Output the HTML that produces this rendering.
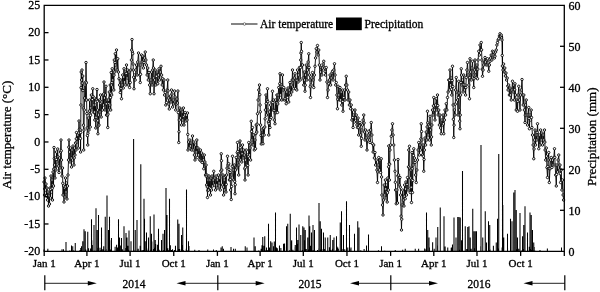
<!DOCTYPE html><html><head><meta charset="utf-8"><style>html,body{margin:0;padding:0;background:#fff;}svg{display:block;will-change:transform;}text{font-family:"Liberation Serif",serif;fill:#000;stroke:#000;stroke-width:0.3px;}</style></head><body>
<svg width="600" height="292" viewBox="0 0 600 292">
<rect width="600" height="292" fill="#fff"/>
<path d="M80.00 251.30V250.05M80.77 251.30V247.93M81.42 251.30V248.84M85.79 251.30V249.53M88.54 251.30V248.14M90.59 251.30V248.55M91.76 251.30V240.30M92.37 251.30V245.04M94.08 251.30V250.12M97.39 251.30V248.04M98.52 251.30V248.76M100.01 251.30V247.65M101.23 251.30V250.09M102.70 251.30V249.37M103.71 251.30V246.24M105.37 251.30V250.40M106.82 251.30V248.92M108.75 251.30V247.12M109.75 251.30V240.30M110.47 251.30V249.57M115.13 251.30V246.67M116.58 251.30V244.63M117.62 251.30V247.50M119.10 251.30V248.52M120.36 251.30V245.44M122.41 251.30V249.24M125.66 251.30V247.97M127.78 251.30V245.78M128.77 251.30V249.74M135.06 251.30V249.71M138.24 251.30V248.75M140.19 251.30V245.83M142.10 251.30V250.26M143.30 251.30V249.88M145.25 251.30V241.18M146.93 251.30V250.45M148.24 251.30V248.45M150.39 251.30V249.83M151.83 251.30V241.51M153.47 251.30V248.98M154.99 251.30V247.69M155.61 251.30V243.95M157.39 251.30V244.66M159.20 251.30V249.71M163.36 251.30V249.97M167.80 251.30V248.25M168.57 251.30V250.37M169.66 251.30V249.85M170.39 251.30V245.25M172.51 251.30V249.29M174.51 251.30V249.96M175.47 251.30V245.65M178.32 251.30V248.90M179.09 251.30V248.79M179.66 251.30V248.90M181.76 251.30V244.93M183.41 251.30V250.33M186.30 251.30V248.87M188.08 251.30V250.02M188.97 251.30V245.96M262.00 251.30V245.17M263.95 251.30V245.84M265.79 251.30V250.48M267.25 251.30V249.89M268.92 251.30V250.34M270.68 251.30V241.27M272.02 251.30V242.45M274.29 251.30V241.38M277.36 251.30V248.17M279.48 251.30V245.43M280.87 251.30V247.91M284.52 251.30V243.60M286.43 251.30V246.86M289.75 251.30V250.01M291.69 251.30V240.30M292.94 251.30V249.66M295.13 251.30V247.17M296.83 251.30V243.77M300.77 251.30V240.30M302.47 251.30V249.92M304.58 251.30V240.30M306.26 251.30V248.91M308.43 251.30V249.48M310.50 251.30V245.70M311.43 251.30V250.37M312.51 251.30V250.42M314.08 251.30V250.34M317.50 251.30V249.90M318.86 251.30V248.50M320.98 251.30V249.55M323.13 251.30V249.07M324.61 251.30V248.93M325.21 251.30V249.44M329.42 251.30V247.17M330.95 251.30V250.04M332.41 251.30V248.71M335.86 251.30V250.39M336.90 251.30V246.57M338.35 251.30V248.66M340.22 251.30V243.50M341.55 251.30V248.27M342.99 251.30V249.00M344.75 251.30V249.37M426.00 251.30V249.22M429.40 251.30V247.46M432.63 251.30V242.18M434.21 251.30V248.68M437.61 251.30V245.44M445.14 251.30V246.40M451.22 251.30V247.85M452.49 251.30V244.44M459.39 251.30V249.67M461.57 251.30V240.30M466.72 251.30V248.98M470.25 251.30V247.20M471.19 251.30V248.72M475.03 251.30V248.17M480.80 251.30V246.33M488.85 251.30V250.29M490.08 251.30V249.54M493.40 251.30V245.83M498.32 251.30V248.59M502.12 251.30V247.57M507.53 251.30V248.08M516.92 251.30V249.36M518.71 251.30V248.72M522.07 251.30V250.30M523.31 251.30V248.90M527.58 251.30V250.10M529.28 251.30V246.74M530.94 251.30V249.08M532.30 251.30V249.94M533.24 251.30V250.38M534.17 251.30V247.07M44.00 251.30V249.61M47.84 251.30V248.75M69.77 251.30V250.48M73.58 251.30V250.59M194.75 251.30V249.69M216.26 251.30V250.04M235.31 251.30V248.71M258.73 251.30V250.47M261.13 251.30V248.71M350.79 251.30V248.81M360.79 251.30V250.14M364.12 251.30V248.95M378.46 251.30V250.17M384.73 251.30V250.65M402.66 251.30V249.65M418.62 251.30V248.75M424.65 251.30V248.56M535.00 251.30V250.79M539.98 251.30V249.94M547.38 251.30V248.48M47.75 251.30V250.00M62.00 251.30V249.25M63.50 251.30V249.25M66.00 251.30V242.00M71.50 251.30V245.50M72.75 251.30V246.25M75.25 251.30V243.00M81.50 251.30V246.25M82.75 251.30V241.25M84.00 251.30V229.25M85.25 251.30V231.25M87.75 251.30V231.75M91.50 251.30V219.25M94.00 251.30V225.00M96.00 251.30V208.25M97.25 251.30V230.00M98.50 251.30V215.00M101.50 251.30V227.50M105.25 251.30V216.75M107.00 251.30V195.50M108.50 251.30V230.00M109.50 251.30V216.75M111.50 251.30V238.00M118.50 251.30V219.25M119.50 251.30V237.50M121.50 251.30V238.00M124.00 251.30V226.25M126.00 251.30V233.00M127.00 251.30V237.50M129.00 251.30V230.50M131.00 251.30V241.25M133.60 251.30V139.00M135.25 251.30V230.00M137.00 251.30V220.00M140.80 251.30V164.20M144.00 251.30V198.75M144.50 251.30V218.75M146.50 251.30V232.50M148.50 251.30V237.50M150.25 251.30V216.25M151.50 251.30V233.75M154.00 251.30V214.50M155.25 251.30V240.00M158.50 251.30V228.75M161.50 251.30V240.00M163.00 251.30V233.75M164.50 251.30V230.00M166.00 251.30V188.00M167.00 251.30V215.00M169.50 251.30V198.75M171.50 251.30V250.00M177.75 251.30V219.50M179.00 251.30V223.75M181.50 251.30V235.00M182.75 251.30V227.50M186.50 251.30V189.50M188.50 251.30V241.25M199.00 251.30V250.00M207.75 251.30V249.50M213.50 251.30V249.50M221.00 251.30V247.50M222.25 251.30V246.25M223.50 251.30V248.75M231.00 251.30V247.00M233.50 251.30V248.75M245.25 251.30V246.25M247.00 251.30V247.50M254.00 251.30V237.50M255.25 251.30V246.25M261.50 251.30V248.75M262.75 251.30V237.00M264.75 251.30V236.25M266.50 251.30V247.50M268.50 251.30V223.75M269.50 251.30V247.50M273.50 251.30V246.25M275.50 251.30V212.50M276.50 251.30V247.50M283.50 251.30V243.75M286.50 251.30V226.25M287.75 251.30V223.75M290.25 251.30V213.75M291.50 251.30V241.25M295.25 251.30V245.00M296.50 251.30V227.50M297.75 251.30V240.00M299.00 251.30V224.50M300.75 251.30V235.00M302.75 251.30V226.25M304.00 251.30V227.50M305.25 251.30V230.00M307.75 251.30V237.50M309.00 251.30V215.50M309.75 251.30V226.25M311.50 251.30V232.50M313.00 251.30V225.00M314.50 251.30V230.00M319.00 251.30V203.00M320.25 251.30V221.25M321.50 251.30V228.75M323.50 251.30V232.50M325.25 251.30V237.50M327.75 251.30V237.50M330.25 251.30V235.00M332.75 251.30V240.00M334.00 251.30V237.50M336.50 251.30V236.25M337.75 251.30V247.50M340.25 251.30V222.50M341.50 251.30V211.25M343.50 251.30V235.00M346.50 251.30V201.25M347.75 251.30V247.50M349.50 251.30V225.00M351.00 251.30V247.50M354.50 251.30V233.75M357.75 251.30V221.25M359.00 251.30V227.50M366.50 251.30V245.50M368.50 251.30V234.50M381.50 251.30V246.25M395.25 251.30V250.00M405.25 251.30V248.75M415.25 251.30V248.75M426.50 251.30V212.50M427.75 251.30V230.00M429.00 251.30V237.50M436.00 251.30V237.50M437.75 251.30V227.00M440.25 251.30V207.50M444.00 251.30V216.25M447.75 251.30V247.50M451.50 251.30V247.50M454.00 251.30V217.50M456.00 251.30V237.50M457.75 251.30V217.00M459.00 251.30V217.00M460.25 251.30V217.50M462.50 251.30V171.00M465.25 251.30V226.25M467.75 251.30V227.00M469.00 251.30V226.25M470.25 251.30V237.50M472.75 251.30V208.75M474.00 251.30V231.25M475.25 251.30V231.25M476.50 251.30V231.25M481.00 251.30V145.00M482.75 251.30V237.50M485.25 251.30V211.25M486.50 251.30V242.50M488.50 251.30V221.25M489.75 251.30V225.00M496.25 251.30V242.50M497.50 251.30V218.75M498.75 251.30V154.00M502.50 251.30V36.00M502.80 251.30V205.00M503.75 251.30V237.50M507.50 251.30V233.75M510.50 251.30V218.75M512.00 251.30V221.25M513.75 251.30V192.50M515.00 251.30V190.00M516.25 251.30V210.00M517.50 251.30V237.50M520.00 251.30V213.00M522.50 251.30V236.25M523.75 251.30V225.00M525.00 251.30V206.25M527.50 251.30V232.50M530.00 251.30V212.50M531.25 251.30V215.00M532.50 251.30V230.00M533.75 251.30V242.50M561.50 251.30V247.50" stroke="#000" stroke-width="1.05" fill="none"/>
<path d="M44.00 182.00 L44.50 195.00 L44.71 188.86 L45.00 178.00 L45.50 190.00 L46.00 184.00 L46.50 196.00 L47.00 188.00 L47.50 200.00 L48.00 192.00 L48.50 206.00 L49.00 196.00 L49.50 204.00 L50.00 188.00 L50.50 198.00 L50.73 189.25 L51.00 176.00 L51.50 192.00 L52.00 180.00 L52.22 188.29 L52.50 200.00 L52.75 185.01 L53.00 172.00 L53.50 186.00 L53.74 169.09 L54.00 147.50 L54.29 158.53 L54.50 165.00 L55.00 178.00 L55.26 168.72 L55.50 158.00 L56.00 170.00 L56.29 159.56 L56.50 152.00 L57.00 162.00 L57.70 149.00 L58.03 156.89 L58.30 166.00 L59.00 172.50 L59.50 158.00 L60.00 168.00 L60.50 152.00 L61.00 140.00 L61.27 150.78 L61.50 160.00 L62.00 176.00 L62.50 168.00 L62.78 183.30 L63.00 195.00 L63.50 186.00 L64.00 202.00 L64.50 188.00 L65.00 197.00 L65.23 186.96 L65.50 178.00 L66.00 192.00 L66.50 183.00 L67.00 199.00 L67.50 186.00 L68.00 175.00 L68.50 160.00 L68.79 147.17 L69.00 140.00 L69.50 152.00 L70.00 162.00 L70.50 148.00 L71.00 158.00 L71.50 167.00 L71.75 158.13 L72.00 150.00 L72.50 160.00 L73.00 146.00 L73.50 156.00 L74.00 165.00 L74.23 157.90 L74.50 148.00 L75.00 155.00 L75.50 143.00 L76.00 150.00 L76.30 138.86 L76.50 132.50 L77.00 142.00 L77.75 135.00 L78.30 148.00 L78.67 133.06 L79.00 121.00 L79.31 129.38 L79.60 138.00 L80.25 130.00 L80.40 138.52 L80.60 152.00 L80.73 132.46 L80.90 105.00 L81.05 87.68 L81.20 72.00 L81.60 80.00 L82.00 70.00 L82.23 83.11 L82.40 90.00 L82.75 76.00 L82.97 90.60 L83.20 108.00 L83.42 125.19 L83.70 150.00 L83.98 130.04 L84.30 110.00 L84.57 98.08 L84.90 85.00 L85.50 100.00 L85.76 81.89 L86.00 62.50 L86.33 82.86 L86.60 100.00 L86.84 113.59 L87.10 128.00 L87.41 135.60 L87.75 145.00 L87.98 133.20 L88.30 118.00 L89.00 130.00 L89.36 111.07 L89.60 100.00 L89.93 113.91 L90.25 127.00 L90.56 115.27 L90.80 108.00 L91.40 95.00 L92.00 110.00 L92.34 99.59 L92.75 88.75 L93.01 96.39 L93.30 105.00 L93.80 112.50 L94.30 98.00 L94.60 112.04 L94.80 120.00 L95.30 105.00 L95.59 116.78 L95.80 128.00 L96.04 117.25 L96.40 100.00 L97.00 89.50 L97.29 101.29 L97.50 110.00 L97.71 120.79 L97.90 133.75 L98.19 126.06 L98.50 115.00 L99.00 125.00 L99.28 111.94 L99.50 100.00 L100.00 112.00 L100.36 101.14 L100.60 95.00 L100.85 103.24 L101.20 117.00 L101.80 102.00 L102.40 110.00 L103.00 95.00 L103.50 105.00 L103.75 93.94 L104.00 82.00 L104.50 98.00 L105.00 110.00 L105.50 95.00 L106.00 86.25 L106.29 103.83 L106.50 115.00 L107.00 100.00 L107.40 115.35 L107.75 127.50 L108.02 114.14 L108.30 100.00 L108.80 110.00 L109.00 103.50 L109.30 92.00 L109.80 105.00 L110.00 97.33 L110.25 85.00 L110.49 97.64 L110.70 110.00 L110.91 93.30 L111.20 72.50 L111.46 84.96 L111.70 95.00 L111.91 82.62 L112.20 68.75 L112.75 80.00 L113.30 75.00 L113.80 90.00 L114.05 75.10 L114.30 60.00 L114.80 72.00 L115.01 62.45 L115.25 53.75 L115.80 65.00 L116.50 50.00 L116.81 58.94 L117.10 70.00 L117.75 58.75 L118.40 72.00 L119.00 78.75 L119.60 85.00 L120.25 92.50 L120.80 80.00 L121.12 88.51 L121.50 98.75 L122.10 85.00 L122.70 75.00 L123.30 88.00 L123.71 77.04 L124.00 68.75 L124.60 82.00 L125.20 72.00 L125.80 85.00 L126.20 73.39 L126.50 65.00 L127.10 78.00 L127.70 70.00 L128.30 85.00 L129.00 72.00 L129.60 87.50 L130.25 82.50 L130.80 70.00 L131.40 60.00 L131.67 50.08 L132.00 39.50 L132.40 52.00 L132.75 53.75 L133.08 63.99 L133.30 70.00 L133.62 77.22 L134.00 88.75 L134.60 75.00 L135.20 80.00 L135.80 70.00 L136.50 65.00 L137.10 75.00 L137.70 62.00 L138.50 53.00 L139.10 65.00 L139.70 75.00 L140.25 82.50 L140.57 74.28 L140.90 65.00 L141.50 55.00 L142.10 62.00 L142.75 56.00 L143.40 68.00 L144.00 62.50 L144.60 58.00 L145.25 52.00 L145.90 60.00 L146.50 65.00 L147.10 75.00 L147.70 68.00 L148.30 80.00 L149.00 72.50 L149.60 85.00 L150.25 93.75 L150.90 80.00 L151.50 72.00 L152.10 85.00 L152.70 70.00 L153.25 60.00 L153.47 67.98 L153.70 78.00 L154.00 93.75 L154.60 80.00 L155.20 70.00 L155.80 85.00 L156.50 76.25 L157.10 72.00 L157.75 83.75 L158.40 75.00 L159.00 68.75 L159.60 80.00 L160.30 72.00 L161.00 66.25 L161.60 75.00 L162.20 85.00 L162.75 78.75 L163.40 90.00 L164.00 80.00 L164.60 95.00 L165.25 92.50 L165.80 105.00 L166.50 102.50 L167.10 90.00 L167.75 80.00 L168.04 90.88 L168.30 98.00 L168.80 104.00 L169.30 109.00 L169.80 100.00 L170.40 96.00 L171.00 102.00 L171.50 90.00 L172.00 94.00 L172.60 107.00 L173.20 100.00 L173.80 104.00 L174.60 91.00 L175.10 97.00 L175.70 110.00 L176.30 104.00 L176.90 99.00 L177.40 103.00 L177.90 91.00 L178.28 112.54 L178.75 142.50 L179.01 131.74 L179.30 120.00 L179.80 108.00 L180.40 118.00 L181.00 110.00 L181.60 125.00 L182.20 112.00 L182.80 120.00 L183.40 108.00 L183.72 116.21 L184.00 125.00 L184.60 115.00 L185.20 112.50 L185.80 121.00 L186.40 115.00 L187.00 120.00 L187.50 113.00 L187.78 134.42 L188.00 150.00 L188.60 142.00 L189.20 148.00 L189.80 140.00 L190.40 146.00 L191.00 143.00 L191.60 150.00 L192.50 136.00 L193.20 150.00 L193.80 142.00 L194.40 155.00 L195.00 160.00 L195.60 145.00 L196.20 152.00 L196.80 140.00 L197.10 147.88 L197.40 157.50 L198.00 148.00 L198.60 155.00 L199.20 150.00 L199.80 160.00 L200.40 150.00 L201.00 161.00 L201.60 153.00 L202.20 162.50 L202.80 155.00 L203.40 160.00 L203.75 168.75 L204.30 155.00 L204.90 162.00 L205.50 175.00 L206.10 165.00 L206.40 176.31 L206.60 185.00 L207.00 175.00 L207.28 186.88 L207.50 197.50 L207.72 190.51 L208.00 180.00 L208.50 190.00 L209.00 176.00 L209.50 188.00 L210.00 180.00 L210.50 195.00 L210.73 188.55 L211.00 178.00 L211.50 190.00 L212.00 176.00 L212.60 186.00 L213.20 180.00 L213.75 171.25 L214.30 185.00 L214.90 178.00 L215.50 190.00 L216.10 176.00 L216.70 185.00 L217.30 180.00 L217.90 188.00 L218.50 175.00 L219.10 183.00 L219.70 178.00 L220.30 190.00 L220.77 170.97 L221.25 153.75 L221.49 160.73 L221.80 170.00 L222.40 185.00 L223.00 175.00 L223.32 187.01 L223.60 195.00 L224.20 180.00 L224.80 190.00 L225.40 176.00 L226.00 192.00 L226.26 184.38 L226.60 175.00 L227.00 168.12 L227.50 156.25 L228.10 165.00 L228.75 163.75 L229.03 169.37 L229.40 180.00 L230.00 172.50 L230.25 179.39 L230.60 190.00 L231.25 199.50 L231.63 186.45 L231.90 175.00 L232.23 166.24 L232.50 156.25 L233.10 170.00 L233.70 180.00 L234.30 165.00 L234.71 181.34 L235.00 193.75 L235.26 184.68 L235.60 170.00 L236.25 157.50 L236.90 168.00 L237.23 152.59 L237.50 142.50 L237.82 151.46 L238.10 160.00 L238.70 175.00 L238.98 165.00 L239.30 155.00 L240.00 141.00 L240.26 147.75 L240.60 160.00 L241.20 150.00 L241.80 162.00 L242.12 153.80 L242.50 145.00 L243.10 158.00 L243.70 150.00 L244.30 155.00 L244.71 168.65 L245.00 180.00 L245.36 167.27 L245.60 160.00 L246.25 150.00 L246.90 165.00 L247.50 155.00 L247.78 165.39 L248.10 175.00 L248.47 156.45 L248.75 142.50 L249.40 155.00 L250.00 148.00 L250.60 160.00 L250.87 144.04 L251.25 121.25 L251.56 131.41 L251.90 140.00 L252.50 127.50 L252.76 134.77 L253.10 145.00 L253.70 135.00 L254.30 150.00 L255.00 140.00 L255.50 148.75 L255.91 133.58 L256.20 125.00 L256.80 132.00 L257.14 124.14 L257.50 113.75 L258.10 100.00 L258.75 90.00 L259.50 85.00 L259.83 94.69 L260.10 105.00 L260.30 111.83 L260.60 125.00 L260.98 135.37 L261.25 144.00 L261.90 130.00 L262.50 135.00 L263.00 143.75 L263.60 128.00 L264.20 135.00 L264.80 127.00 L265.13 118.85 L265.40 110.00 L266.00 95.00 L266.23 103.67 L266.50 115.00 L267.00 100.00 L267.50 88.75 L267.85 101.67 L268.10 110.00 L268.39 121.96 L268.75 135.00 L269.05 123.67 L269.40 112.00 L270.00 127.50 L270.24 119.25 L270.60 105.00 L271.20 117.50 L271.80 102.00 L272.50 91.25 L272.85 102.59 L273.10 110.00 L273.70 100.00 L274.05 110.35 L274.30 120.00 L275.00 123.75 L275.27 113.06 L275.60 100.00 L276.25 112.50 L276.63 103.51 L276.90 95.00 L277.19 102.61 L277.50 112.50 L277.79 103.98 L278.10 95.00 L278.75 87.50 L279.40 100.00 L279.75 83.68 L280.00 73.75 L280.34 86.38 L280.60 95.00 L281.20 85.00 L281.80 100.00 L282.20 86.70 L282.50 75.00 L283.10 90.00 L283.75 87.50 L284.40 100.00 L285.00 98.75 L285.60 90.00 L286.20 103.75 L286.80 92.00 L287.50 97.50 L288.10 88.00 L288.70 102.00 L289.30 90.00 L290.00 82.50 L290.60 95.00 L291.20 85.00 L291.80 92.00 L292.17 80.01 L292.50 70.00 L293.10 80.00 L293.70 88.75 L294.30 78.00 L295.00 73.75 L295.60 88.75 L296.20 80.00 L296.80 90.00 L297.12 80.31 L297.50 70.00 L298.10 82.00 L298.70 75.00 L299.50 67.50 L300.20 80.00 L300.48 67.61 L300.70 60.00 L300.94 53.07 L301.25 42.50 L301.54 51.31 L301.90 65.00 L302.50 65.00 L303.10 78.00 L303.70 85.00 L304.30 72.00 L304.58 79.99 L305.00 91.25 L305.28 85.13 L305.60 75.00 L306.25 65.00 L306.90 80.00 L307.50 70.00 L308.10 62.00 L308.75 53.75 L309.12 67.47 L309.40 75.00 L310.00 80.00 L310.23 86.68 L310.50 97.50 L311.10 85.00 L311.80 78.00 L312.50 72.50 L313.10 80.00 L313.75 87.50 L314.40 75.00 L315.00 66.25 L315.60 58.00 L316.25 48.75 L316.90 52.00 L317.50 45.50 L318.10 55.00 L318.75 50.00 L319.40 65.00 L320.00 80.00 L320.60 72.00 L321.25 67.50 L321.90 75.00 L322.50 68.00 L323.10 64.00 L323.75 61.25 L324.40 68.00 L325.00 71.25 L325.60 75.00 L326.25 67.50 L326.90 82.00 L327.50 97.50 L328.10 90.00 L328.75 83.75 L329.40 80.00 L330.00 75.00 L330.60 85.00 L331.20 78.00 L331.90 73.00 L332.50 71.25 L333.10 80.00 L333.80 70.00 L334.50 63.75 L335.10 75.00 L335.70 85.00 L336.25 82.50 L336.90 95.00 L337.50 108.75 L337.75 99.31 L338.10 86.25 L338.80 95.00 L339.40 100.00 L340.00 87.50 L340.60 100.00 L341.20 92.00 L341.80 105.00 L342.50 90.00 L342.77 101.36 L343.00 111.25 L343.75 97.50 L344.40 90.00 L345.00 100.00 L345.60 85.00 L346.25 76.25 L346.90 85.00 L347.50 90.00 L348.10 100.00 L348.70 92.00 L349.40 105.00 L350.00 100.00 L350.60 108.75 L351.25 105.00 L351.90 120.00 L352.50 110.00 L352.77 117.57 L353.10 127.50 L353.70 115.00 L354.40 122.00 L355.00 110.00 L355.60 118.00 L356.25 115.00 L356.90 125.00 L357.50 127.50 L358.10 118.00 L358.41 127.43 L358.70 135.00 L359.40 126.00 L360.00 122.50 L360.60 135.00 L361.25 146.25 L361.61 138.36 L361.90 130.00 L362.50 125.00 L363.10 120.00 L363.75 115.00 L364.10 122.92 L364.40 132.00 L365.00 140.00 L365.60 130.00 L366.20 138.00 L367.00 150.00 L367.60 140.00 L368.20 135.00 L368.75 131.25 L369.40 140.00 L370.00 142.50 L370.60 130.00 L371.25 122.50 L371.90 135.00 L372.50 143.75 L373.10 152.00 L373.70 145.00 L374.40 158.00 L375.00 152.50 L375.60 165.00 L376.25 160.00 L376.90 170.00 L377.50 182.50 L377.84 171.94 L378.10 165.00 L378.75 157.50 L379.40 170.00 L380.00 160.00 L380.60 172.50 L381.25 158.75 L381.58 176.98 L381.90 195.00 L382.50 205.00 L383.00 215.00 L383.60 200.00 L384.20 185.00 L384.80 195.00 L385.40 180.00 L385.73 188.95 L386.00 198.00 L386.60 185.00 L386.87 191.88 L387.20 202.00 L387.46 192.82 L387.80 178.00 L388.40 190.00 L388.58 166.79 L388.75 146.00 L389.06 163.77 L389.40 180.00 L389.70 164.15 L390.00 150.00 L390.60 145.00 L391.25 136.25 L391.90 130.00 L392.50 123.75 L393.10 135.00 L393.75 145.00 L394.40 160.00 L395.00 171.25 L395.34 182.24 L395.60 190.00 L396.25 203.75 L396.90 190.00 L397.50 203.00 L397.80 175.79 L398.00 159.50 L398.60 175.00 L399.20 185.00 L400.00 177.50 L400.30 187.12 L400.60 195.00 L401.11 216.13 L401.50 230.00 L401.74 219.18 L402.10 205.00 L402.70 190.00 L403.30 200.00 L404.00 206.00 L404.25 196.17 L404.60 185.00 L405.25 198.75 L405.64 189.04 L405.90 182.00 L406.50 195.00 L407.09 184.36 L407.50 177.50 L408.10 190.00 L408.47 166.92 L408.75 150.00 L409.50 146.25 L409.84 167.99 L410.25 192.50 L410.63 178.06 L410.90 170.00 L411.21 187.23 L411.50 202.50 L411.72 179.93 L412.00 152.50 L412.21 168.74 L412.50 192.50 L412.77 180.40 L413.10 165.00 L413.44 155.49 L413.75 148.75 L414.40 158.00 L415.00 162.50 L415.60 175.00 L416.25 182.50 L416.90 170.00 L417.50 160.00 L418.10 150.00 L418.75 142.50 L419.40 155.00 L420.00 145.00 L420.60 150.00 L420.86 138.92 L421.25 123.75 L421.60 131.51 L421.90 140.00 L422.50 155.00 L423.10 145.00 L423.40 156.25 L423.75 171.25 L424.11 159.51 L424.40 150.00 L425.00 138.00 L425.60 145.00 L426.20 132.00 L426.80 140.00 L427.09 126.94 L427.50 111.25 L427.79 122.78 L428.10 135.00 L428.70 125.00 L429.40 140.00 L429.72 126.24 L430.00 116.25 L430.60 130.00 L431.25 145.00 L431.53 136.93 L431.90 125.00 L432.50 110.00 L433.10 115.00 L433.41 105.92 L433.75 97.50 L434.40 110.00 L435.00 120.00 L435.60 105.00 L436.25 98.75 L436.90 110.00 L437.50 95.00 L437.78 105.59 L438.10 115.00 L438.75 110.00 L439.40 125.00 L440.00 115.00 L440.60 128.00 L441.25 133.75 L441.90 120.00 L442.50 125.00 L443.10 115.00 L443.40 123.87 L443.75 133.75 L444.40 120.00 L445.00 110.00 L445.60 115.00 L446.25 103.75 L446.90 110.00 L447.50 97.50 L448.10 92.00 L448.75 80.00 L449.40 90.00 L449.68 80.32 L450.00 70.00 L450.60 85.00 L451.20 78.00 L451.54 89.23 L451.80 95.00 L452.13 80.50 L452.50 66.25 L452.83 86.50 L453.10 105.00 L453.36 119.24 L453.75 137.50 L454.07 125.13 L454.40 110.00 L455.00 115.00 L455.29 104.12 L455.60 90.00 L456.25 77.50 L456.90 92.00 L457.50 100.00 L458.10 115.00 L458.42 97.38 L458.75 81.25 L459.01 92.99 L459.40 110.00 L459.72 121.13 L460.00 128.75 L460.25 115.02 L460.60 95.00 L460.91 82.57 L461.25 68.75 L461.53 75.07 L461.90 85.00 L462.50 80.00 L463.10 92.00 L463.43 84.70 L463.75 75.00 L464.40 90.00 L465.00 85.00 L465.60 95.00 L465.87 87.59 L466.25 77.50 L466.90 70.00 L467.50 62.50 L468.10 75.00 L468.80 85.00 L469.50 98.75 L469.78 77.71 L470.00 58.75 L470.60 72.00 L471.25 80.00 L471.90 68.00 L472.50 61.25 L473.10 75.00 L473.75 87.50 L474.04 78.69 L474.40 70.00 L475.00 60.00 L475.60 72.00 L476.25 77.50 L476.90 65.00 L477.50 78.75 L477.85 69.14 L478.10 60.00 L478.75 51.25 L479.40 55.00 L480.00 45.00 L480.60 50.00 L481.25 42.50 L481.57 49.85 L481.90 60.00 L482.25 69.17 L482.50 76.25 L483.10 70.00 L483.75 65.00 L484.40 62.00 L485.00 57.50 L485.60 62.00 L486.25 65.00 L486.90 60.00 L487.50 58.75 L488.10 65.00 L488.75 71.25 L489.40 65.00 L490.00 61.25 L490.60 58.00 L491.20 55.00 L491.90 60.00 L492.50 51.25 L493.10 55.00 L493.70 52.00 L494.40 58.00 L495.00 56.25 L495.60 52.00 L496.25 50.00 L496.90 45.00 L497.50 42.50 L498.10 40.00 L498.75 38.75 L499.40 36.00 L500.00 33.75 L500.60 36.00 L501.25 35.00 L501.60 38.00 L502.00 40.00 L502.23 55.46 L502.40 66.00 L503.00 70.00 L503.60 64.00 L504.20 72.00 L504.80 68.00 L505.40 76.00 L506.00 73.00 L506.60 80.00 L507.20 78.00 L507.80 86.00 L508.10 90.00 L508.70 85.00 L509.40 95.00 L510.00 88.00 L510.60 95.00 L511.25 100.00 L511.90 90.00 L512.50 81.25 L513.10 92.00 L513.75 85.00 L514.40 100.00 L514.74 89.80 L515.00 83.75 L515.60 95.00 L516.25 110.00 L516.90 100.00 L517.50 111.25 L517.83 101.36 L518.10 95.00 L518.75 86.25 L519.40 100.00 L520.00 110.00 L520.60 95.00 L521.25 90.00 L522.00 79.50 L522.60 95.00 L523.20 105.00 L523.80 95.00 L524.40 110.00 L525.00 122.50 L525.29 115.12 L525.60 105.00 L526.25 100.00 L526.90 115.00 L527.50 125.00 L528.10 115.00 L528.75 107.50 L529.12 118.57 L529.40 128.75 L530.00 115.00 L530.60 120.00 L531.20 110.00 L531.51 117.46 L531.90 127.50 L532.50 135.00 L533.10 145.00 L533.75 158.75 L534.08 148.96 L534.40 140.00 L535.00 130.00 L535.60 145.00 L536.20 135.00 L536.90 140.00 L537.15 132.34 L537.50 123.75 L538.10 135.00 L538.75 148.75 L539.40 135.00 L540.00 145.00 L540.60 130.00 L541.20 140.00 L541.90 133.00 L542.50 145.00 L543.10 135.00 L543.75 140.00 L544.50 130.00 L544.83 142.09 L545.10 150.00 L545.70 160.00 L546.30 148.00 L546.54 156.15 L546.90 167.50 L547.50 177.50 L547.83 166.46 L548.10 160.00 L548.75 152.50 L549.06 168.38 L549.30 182.50 L550.00 168.75 L550.60 160.00 L551.25 157.50 L551.90 167.50 L552.50 160.00 L553.10 165.00 L553.75 158.00 L554.50 148.75 L554.81 157.35 L555.10 165.00 L555.70 175.00 L556.30 186.00 L556.62 174.39 L556.90 165.00 L557.50 172.00 L558.10 160.00 L558.75 155.00 L559.40 170.00 L560.00 165.00 L560.29 173.72 L560.60 182.50 L561.20 170.00 L561.54 180.18 L561.90 190.00 L562.50 180.00 L563.10 195.00 L563.60 200.00" stroke="#000" stroke-width="0.9" fill="none" stroke-linejoin="round"/>
<g fill="#fff" stroke="#000" stroke-width="0.9"><circle cx="44.00" cy="182.00" r="1.2"/><circle cx="44.50" cy="195.00" r="1.2"/><circle cx="44.71" cy="188.86" r="1.2"/><circle cx="45.00" cy="178.00" r="1.2"/><circle cx="45.50" cy="190.00" r="1.2"/><circle cx="46.00" cy="184.00" r="1.2"/><circle cx="46.50" cy="196.00" r="1.2"/><circle cx="47.00" cy="188.00" r="1.2"/><circle cx="47.50" cy="200.00" r="1.2"/><circle cx="48.00" cy="192.00" r="1.2"/><circle cx="48.50" cy="206.00" r="1.2"/><circle cx="49.00" cy="196.00" r="1.2"/><circle cx="49.50" cy="204.00" r="1.2"/><circle cx="50.00" cy="188.00" r="1.2"/><circle cx="50.50" cy="198.00" r="1.2"/><circle cx="50.73" cy="189.25" r="1.2"/><circle cx="51.00" cy="176.00" r="1.2"/><circle cx="51.50" cy="192.00" r="1.2"/><circle cx="52.00" cy="180.00" r="1.2"/><circle cx="52.22" cy="188.29" r="1.2"/><circle cx="52.50" cy="200.00" r="1.2"/><circle cx="52.75" cy="185.01" r="1.2"/><circle cx="53.00" cy="172.00" r="1.2"/><circle cx="53.50" cy="186.00" r="1.2"/><circle cx="53.74" cy="169.09" r="1.2"/><circle cx="54.00" cy="147.50" r="1.2"/><circle cx="54.29" cy="158.53" r="1.2"/><circle cx="54.50" cy="165.00" r="1.2"/><circle cx="55.00" cy="178.00" r="1.2"/><circle cx="55.26" cy="168.72" r="1.2"/><circle cx="55.50" cy="158.00" r="1.2"/><circle cx="56.00" cy="170.00" r="1.2"/><circle cx="56.29" cy="159.56" r="1.2"/><circle cx="56.50" cy="152.00" r="1.2"/><circle cx="57.00" cy="162.00" r="1.2"/><circle cx="57.70" cy="149.00" r="1.2"/><circle cx="58.03" cy="156.89" r="1.2"/><circle cx="58.30" cy="166.00" r="1.2"/><circle cx="59.00" cy="172.50" r="1.2"/><circle cx="59.50" cy="158.00" r="1.2"/><circle cx="60.00" cy="168.00" r="1.2"/><circle cx="60.50" cy="152.00" r="1.2"/><circle cx="61.00" cy="140.00" r="1.2"/><circle cx="61.27" cy="150.78" r="1.2"/><circle cx="61.50" cy="160.00" r="1.2"/><circle cx="62.00" cy="176.00" r="1.2"/><circle cx="62.50" cy="168.00" r="1.2"/><circle cx="62.78" cy="183.30" r="1.2"/><circle cx="63.00" cy="195.00" r="1.2"/><circle cx="63.50" cy="186.00" r="1.2"/><circle cx="64.00" cy="202.00" r="1.2"/><circle cx="64.50" cy="188.00" r="1.2"/><circle cx="65.00" cy="197.00" r="1.2"/><circle cx="65.23" cy="186.96" r="1.2"/><circle cx="65.50" cy="178.00" r="1.2"/><circle cx="66.00" cy="192.00" r="1.2"/><circle cx="66.50" cy="183.00" r="1.2"/><circle cx="67.00" cy="199.00" r="1.2"/><circle cx="67.50" cy="186.00" r="1.2"/><circle cx="68.00" cy="175.00" r="1.2"/><circle cx="68.50" cy="160.00" r="1.2"/><circle cx="68.79" cy="147.17" r="1.2"/><circle cx="69.00" cy="140.00" r="1.2"/><circle cx="69.50" cy="152.00" r="1.2"/><circle cx="70.00" cy="162.00" r="1.2"/><circle cx="70.50" cy="148.00" r="1.2"/><circle cx="71.00" cy="158.00" r="1.2"/><circle cx="71.50" cy="167.00" r="1.2"/><circle cx="71.75" cy="158.13" r="1.2"/><circle cx="72.00" cy="150.00" r="1.2"/><circle cx="72.50" cy="160.00" r="1.2"/><circle cx="73.00" cy="146.00" r="1.2"/><circle cx="73.50" cy="156.00" r="1.2"/><circle cx="74.00" cy="165.00" r="1.2"/><circle cx="74.23" cy="157.90" r="1.2"/><circle cx="74.50" cy="148.00" r="1.2"/><circle cx="75.00" cy="155.00" r="1.2"/><circle cx="75.50" cy="143.00" r="1.2"/><circle cx="76.00" cy="150.00" r="1.2"/><circle cx="76.30" cy="138.86" r="1.2"/><circle cx="76.50" cy="132.50" r="1.2"/><circle cx="77.00" cy="142.00" r="1.2"/><circle cx="77.75" cy="135.00" r="1.2"/><circle cx="78.30" cy="148.00" r="1.2"/><circle cx="78.67" cy="133.06" r="1.2"/><circle cx="79.00" cy="121.00" r="1.2"/><circle cx="79.31" cy="129.38" r="1.2"/><circle cx="79.60" cy="138.00" r="1.2"/><circle cx="80.25" cy="130.00" r="1.2"/><circle cx="80.40" cy="138.52" r="1.2"/><circle cx="80.60" cy="152.00" r="1.2"/><circle cx="80.73" cy="132.46" r="1.2"/><circle cx="80.90" cy="105.00" r="1.2"/><circle cx="81.05" cy="87.68" r="1.2"/><circle cx="81.20" cy="72.00" r="1.2"/><circle cx="81.60" cy="80.00" r="1.2"/><circle cx="82.00" cy="70.00" r="1.2"/><circle cx="82.23" cy="83.11" r="1.2"/><circle cx="82.40" cy="90.00" r="1.2"/><circle cx="82.75" cy="76.00" r="1.2"/><circle cx="82.97" cy="90.60" r="1.2"/><circle cx="83.20" cy="108.00" r="1.2"/><circle cx="83.42" cy="125.19" r="1.2"/><circle cx="83.70" cy="150.00" r="1.2"/><circle cx="83.98" cy="130.04" r="1.2"/><circle cx="84.30" cy="110.00" r="1.2"/><circle cx="84.57" cy="98.08" r="1.2"/><circle cx="84.90" cy="85.00" r="1.2"/><circle cx="85.50" cy="100.00" r="1.2"/><circle cx="85.76" cy="81.89" r="1.2"/><circle cx="86.00" cy="62.50" r="1.2"/><circle cx="86.33" cy="82.86" r="1.2"/><circle cx="86.60" cy="100.00" r="1.2"/><circle cx="86.84" cy="113.59" r="1.2"/><circle cx="87.10" cy="128.00" r="1.2"/><circle cx="87.41" cy="135.60" r="1.2"/><circle cx="87.75" cy="145.00" r="1.2"/><circle cx="87.98" cy="133.20" r="1.2"/><circle cx="88.30" cy="118.00" r="1.2"/><circle cx="89.00" cy="130.00" r="1.2"/><circle cx="89.36" cy="111.07" r="1.2"/><circle cx="89.60" cy="100.00" r="1.2"/><circle cx="89.93" cy="113.91" r="1.2"/><circle cx="90.25" cy="127.00" r="1.2"/><circle cx="90.56" cy="115.27" r="1.2"/><circle cx="90.80" cy="108.00" r="1.2"/><circle cx="91.40" cy="95.00" r="1.2"/><circle cx="92.00" cy="110.00" r="1.2"/><circle cx="92.34" cy="99.59" r="1.2"/><circle cx="92.75" cy="88.75" r="1.2"/><circle cx="93.01" cy="96.39" r="1.2"/><circle cx="93.30" cy="105.00" r="1.2"/><circle cx="93.80" cy="112.50" r="1.2"/><circle cx="94.30" cy="98.00" r="1.2"/><circle cx="94.60" cy="112.04" r="1.2"/><circle cx="94.80" cy="120.00" r="1.2"/><circle cx="95.30" cy="105.00" r="1.2"/><circle cx="95.59" cy="116.78" r="1.2"/><circle cx="95.80" cy="128.00" r="1.2"/><circle cx="96.04" cy="117.25" r="1.2"/><circle cx="96.40" cy="100.00" r="1.2"/><circle cx="97.00" cy="89.50" r="1.2"/><circle cx="97.29" cy="101.29" r="1.2"/><circle cx="97.50" cy="110.00" r="1.2"/><circle cx="97.71" cy="120.79" r="1.2"/><circle cx="97.90" cy="133.75" r="1.2"/><circle cx="98.19" cy="126.06" r="1.2"/><circle cx="98.50" cy="115.00" r="1.2"/><circle cx="99.00" cy="125.00" r="1.2"/><circle cx="99.28" cy="111.94" r="1.2"/><circle cx="99.50" cy="100.00" r="1.2"/><circle cx="100.00" cy="112.00" r="1.2"/><circle cx="100.36" cy="101.14" r="1.2"/><circle cx="100.60" cy="95.00" r="1.2"/><circle cx="100.85" cy="103.24" r="1.2"/><circle cx="101.20" cy="117.00" r="1.2"/><circle cx="101.80" cy="102.00" r="1.2"/><circle cx="102.40" cy="110.00" r="1.2"/><circle cx="103.00" cy="95.00" r="1.2"/><circle cx="103.50" cy="105.00" r="1.2"/><circle cx="103.75" cy="93.94" r="1.2"/><circle cx="104.00" cy="82.00" r="1.2"/><circle cx="104.50" cy="98.00" r="1.2"/><circle cx="105.00" cy="110.00" r="1.2"/><circle cx="105.50" cy="95.00" r="1.2"/><circle cx="106.00" cy="86.25" r="1.2"/><circle cx="106.29" cy="103.83" r="1.2"/><circle cx="106.50" cy="115.00" r="1.2"/><circle cx="107.00" cy="100.00" r="1.2"/><circle cx="107.40" cy="115.35" r="1.2"/><circle cx="107.75" cy="127.50" r="1.2"/><circle cx="108.02" cy="114.14" r="1.2"/><circle cx="108.30" cy="100.00" r="1.2"/><circle cx="108.80" cy="110.00" r="1.2"/><circle cx="109.00" cy="103.50" r="1.2"/><circle cx="109.30" cy="92.00" r="1.2"/><circle cx="109.80" cy="105.00" r="1.2"/><circle cx="110.00" cy="97.33" r="1.2"/><circle cx="110.25" cy="85.00" r="1.2"/><circle cx="110.49" cy="97.64" r="1.2"/><circle cx="110.70" cy="110.00" r="1.2"/><circle cx="110.91" cy="93.30" r="1.2"/><circle cx="111.20" cy="72.50" r="1.2"/><circle cx="111.46" cy="84.96" r="1.2"/><circle cx="111.70" cy="95.00" r="1.2"/><circle cx="111.91" cy="82.62" r="1.2"/><circle cx="112.20" cy="68.75" r="1.2"/><circle cx="112.75" cy="80.00" r="1.2"/><circle cx="113.30" cy="75.00" r="1.2"/><circle cx="113.80" cy="90.00" r="1.2"/><circle cx="114.05" cy="75.10" r="1.2"/><circle cx="114.30" cy="60.00" r="1.2"/><circle cx="114.80" cy="72.00" r="1.2"/><circle cx="115.01" cy="62.45" r="1.2"/><circle cx="115.25" cy="53.75" r="1.2"/><circle cx="115.80" cy="65.00" r="1.2"/><circle cx="116.50" cy="50.00" r="1.2"/><circle cx="116.81" cy="58.94" r="1.2"/><circle cx="117.10" cy="70.00" r="1.2"/><circle cx="117.75" cy="58.75" r="1.2"/><circle cx="118.40" cy="72.00" r="1.2"/><circle cx="119.00" cy="78.75" r="1.2"/><circle cx="119.60" cy="85.00" r="1.2"/><circle cx="120.25" cy="92.50" r="1.2"/><circle cx="120.80" cy="80.00" r="1.2"/><circle cx="121.12" cy="88.51" r="1.2"/><circle cx="121.50" cy="98.75" r="1.2"/><circle cx="122.10" cy="85.00" r="1.2"/><circle cx="122.70" cy="75.00" r="1.2"/><circle cx="123.30" cy="88.00" r="1.2"/><circle cx="123.71" cy="77.04" r="1.2"/><circle cx="124.00" cy="68.75" r="1.2"/><circle cx="124.60" cy="82.00" r="1.2"/><circle cx="125.20" cy="72.00" r="1.2"/><circle cx="125.80" cy="85.00" r="1.2"/><circle cx="126.20" cy="73.39" r="1.2"/><circle cx="126.50" cy="65.00" r="1.2"/><circle cx="127.10" cy="78.00" r="1.2"/><circle cx="127.70" cy="70.00" r="1.2"/><circle cx="128.30" cy="85.00" r="1.2"/><circle cx="129.00" cy="72.00" r="1.2"/><circle cx="129.60" cy="87.50" r="1.2"/><circle cx="130.25" cy="82.50" r="1.2"/><circle cx="130.80" cy="70.00" r="1.2"/><circle cx="131.40" cy="60.00" r="1.2"/><circle cx="131.67" cy="50.08" r="1.2"/><circle cx="132.00" cy="39.50" r="1.2"/><circle cx="132.40" cy="52.00" r="1.2"/><circle cx="132.75" cy="53.75" r="1.2"/><circle cx="133.08" cy="63.99" r="1.2"/><circle cx="133.30" cy="70.00" r="1.2"/><circle cx="133.62" cy="77.22" r="1.2"/><circle cx="134.00" cy="88.75" r="1.2"/><circle cx="134.60" cy="75.00" r="1.2"/><circle cx="135.20" cy="80.00" r="1.2"/><circle cx="135.80" cy="70.00" r="1.2"/><circle cx="136.50" cy="65.00" r="1.2"/><circle cx="137.10" cy="75.00" r="1.2"/><circle cx="137.70" cy="62.00" r="1.2"/><circle cx="138.50" cy="53.00" r="1.2"/><circle cx="139.10" cy="65.00" r="1.2"/><circle cx="139.70" cy="75.00" r="1.2"/><circle cx="140.25" cy="82.50" r="1.2"/><circle cx="140.57" cy="74.28" r="1.2"/><circle cx="140.90" cy="65.00" r="1.2"/><circle cx="141.50" cy="55.00" r="1.2"/><circle cx="142.10" cy="62.00" r="1.2"/><circle cx="142.75" cy="56.00" r="1.2"/><circle cx="143.40" cy="68.00" r="1.2"/><circle cx="144.00" cy="62.50" r="1.2"/><circle cx="144.60" cy="58.00" r="1.2"/><circle cx="145.25" cy="52.00" r="1.2"/><circle cx="145.90" cy="60.00" r="1.2"/><circle cx="146.50" cy="65.00" r="1.2"/><circle cx="147.10" cy="75.00" r="1.2"/><circle cx="147.70" cy="68.00" r="1.2"/><circle cx="148.30" cy="80.00" r="1.2"/><circle cx="149.00" cy="72.50" r="1.2"/><circle cx="149.60" cy="85.00" r="1.2"/><circle cx="150.25" cy="93.75" r="1.2"/><circle cx="150.90" cy="80.00" r="1.2"/><circle cx="151.50" cy="72.00" r="1.2"/><circle cx="152.10" cy="85.00" r="1.2"/><circle cx="152.70" cy="70.00" r="1.2"/><circle cx="153.25" cy="60.00" r="1.2"/><circle cx="153.47" cy="67.98" r="1.2"/><circle cx="153.70" cy="78.00" r="1.2"/><circle cx="154.00" cy="93.75" r="1.2"/><circle cx="154.60" cy="80.00" r="1.2"/><circle cx="155.20" cy="70.00" r="1.2"/><circle cx="155.80" cy="85.00" r="1.2"/><circle cx="156.50" cy="76.25" r="1.2"/><circle cx="157.10" cy="72.00" r="1.2"/><circle cx="157.75" cy="83.75" r="1.2"/><circle cx="158.40" cy="75.00" r="1.2"/><circle cx="159.00" cy="68.75" r="1.2"/><circle cx="159.60" cy="80.00" r="1.2"/><circle cx="160.30" cy="72.00" r="1.2"/><circle cx="161.00" cy="66.25" r="1.2"/><circle cx="161.60" cy="75.00" r="1.2"/><circle cx="162.20" cy="85.00" r="1.2"/><circle cx="162.75" cy="78.75" r="1.2"/><circle cx="163.40" cy="90.00" r="1.2"/><circle cx="164.00" cy="80.00" r="1.2"/><circle cx="164.60" cy="95.00" r="1.2"/><circle cx="165.25" cy="92.50" r="1.2"/><circle cx="165.80" cy="105.00" r="1.2"/><circle cx="166.50" cy="102.50" r="1.2"/><circle cx="167.10" cy="90.00" r="1.2"/><circle cx="167.75" cy="80.00" r="1.2"/><circle cx="168.04" cy="90.88" r="1.2"/><circle cx="168.30" cy="98.00" r="1.2"/><circle cx="168.80" cy="104.00" r="1.2"/><circle cx="169.30" cy="109.00" r="1.2"/><circle cx="169.80" cy="100.00" r="1.2"/><circle cx="170.40" cy="96.00" r="1.2"/><circle cx="171.00" cy="102.00" r="1.2"/><circle cx="171.50" cy="90.00" r="1.2"/><circle cx="172.00" cy="94.00" r="1.2"/><circle cx="172.60" cy="107.00" r="1.2"/><circle cx="173.20" cy="100.00" r="1.2"/><circle cx="173.80" cy="104.00" r="1.2"/><circle cx="174.60" cy="91.00" r="1.2"/><circle cx="175.10" cy="97.00" r="1.2"/><circle cx="175.70" cy="110.00" r="1.2"/><circle cx="176.30" cy="104.00" r="1.2"/><circle cx="176.90" cy="99.00" r="1.2"/><circle cx="177.40" cy="103.00" r="1.2"/><circle cx="177.90" cy="91.00" r="1.2"/><circle cx="178.28" cy="112.54" r="1.2"/><circle cx="178.75" cy="142.50" r="1.2"/><circle cx="179.01" cy="131.74" r="1.2"/><circle cx="179.30" cy="120.00" r="1.2"/><circle cx="179.80" cy="108.00" r="1.2"/><circle cx="180.40" cy="118.00" r="1.2"/><circle cx="181.00" cy="110.00" r="1.2"/><circle cx="181.60" cy="125.00" r="1.2"/><circle cx="182.20" cy="112.00" r="1.2"/><circle cx="182.80" cy="120.00" r="1.2"/><circle cx="183.40" cy="108.00" r="1.2"/><circle cx="183.72" cy="116.21" r="1.2"/><circle cx="184.00" cy="125.00" r="1.2"/><circle cx="184.60" cy="115.00" r="1.2"/><circle cx="185.20" cy="112.50" r="1.2"/><circle cx="185.80" cy="121.00" r="1.2"/><circle cx="186.40" cy="115.00" r="1.2"/><circle cx="187.00" cy="120.00" r="1.2"/><circle cx="187.50" cy="113.00" r="1.2"/><circle cx="187.78" cy="134.42" r="1.2"/><circle cx="188.00" cy="150.00" r="1.2"/><circle cx="188.60" cy="142.00" r="1.2"/><circle cx="189.20" cy="148.00" r="1.2"/><circle cx="189.80" cy="140.00" r="1.2"/><circle cx="190.40" cy="146.00" r="1.2"/><circle cx="191.00" cy="143.00" r="1.2"/><circle cx="191.60" cy="150.00" r="1.2"/><circle cx="192.50" cy="136.00" r="1.2"/><circle cx="193.20" cy="150.00" r="1.2"/><circle cx="193.80" cy="142.00" r="1.2"/><circle cx="194.40" cy="155.00" r="1.2"/><circle cx="195.00" cy="160.00" r="1.2"/><circle cx="195.60" cy="145.00" r="1.2"/><circle cx="196.20" cy="152.00" r="1.2"/><circle cx="196.80" cy="140.00" r="1.2"/><circle cx="197.10" cy="147.88" r="1.2"/><circle cx="197.40" cy="157.50" r="1.2"/><circle cx="198.00" cy="148.00" r="1.2"/><circle cx="198.60" cy="155.00" r="1.2"/><circle cx="199.20" cy="150.00" r="1.2"/><circle cx="199.80" cy="160.00" r="1.2"/><circle cx="200.40" cy="150.00" r="1.2"/><circle cx="201.00" cy="161.00" r="1.2"/><circle cx="201.60" cy="153.00" r="1.2"/><circle cx="202.20" cy="162.50" r="1.2"/><circle cx="202.80" cy="155.00" r="1.2"/><circle cx="203.40" cy="160.00" r="1.2"/><circle cx="203.75" cy="168.75" r="1.2"/><circle cx="204.30" cy="155.00" r="1.2"/><circle cx="204.90" cy="162.00" r="1.2"/><circle cx="205.50" cy="175.00" r="1.2"/><circle cx="206.10" cy="165.00" r="1.2"/><circle cx="206.40" cy="176.31" r="1.2"/><circle cx="206.60" cy="185.00" r="1.2"/><circle cx="207.00" cy="175.00" r="1.2"/><circle cx="207.28" cy="186.88" r="1.2"/><circle cx="207.50" cy="197.50" r="1.2"/><circle cx="207.72" cy="190.51" r="1.2"/><circle cx="208.00" cy="180.00" r="1.2"/><circle cx="208.50" cy="190.00" r="1.2"/><circle cx="209.00" cy="176.00" r="1.2"/><circle cx="209.50" cy="188.00" r="1.2"/><circle cx="210.00" cy="180.00" r="1.2"/><circle cx="210.50" cy="195.00" r="1.2"/><circle cx="210.73" cy="188.55" r="1.2"/><circle cx="211.00" cy="178.00" r="1.2"/><circle cx="211.50" cy="190.00" r="1.2"/><circle cx="212.00" cy="176.00" r="1.2"/><circle cx="212.60" cy="186.00" r="1.2"/><circle cx="213.20" cy="180.00" r="1.2"/><circle cx="213.75" cy="171.25" r="1.2"/><circle cx="214.30" cy="185.00" r="1.2"/><circle cx="214.90" cy="178.00" r="1.2"/><circle cx="215.50" cy="190.00" r="1.2"/><circle cx="216.10" cy="176.00" r="1.2"/><circle cx="216.70" cy="185.00" r="1.2"/><circle cx="217.30" cy="180.00" r="1.2"/><circle cx="217.90" cy="188.00" r="1.2"/><circle cx="218.50" cy="175.00" r="1.2"/><circle cx="219.10" cy="183.00" r="1.2"/><circle cx="219.70" cy="178.00" r="1.2"/><circle cx="220.30" cy="190.00" r="1.2"/><circle cx="220.77" cy="170.97" r="1.2"/><circle cx="221.25" cy="153.75" r="1.2"/><circle cx="221.49" cy="160.73" r="1.2"/><circle cx="221.80" cy="170.00" r="1.2"/><circle cx="222.40" cy="185.00" r="1.2"/><circle cx="223.00" cy="175.00" r="1.2"/><circle cx="223.32" cy="187.01" r="1.2"/><circle cx="223.60" cy="195.00" r="1.2"/><circle cx="224.20" cy="180.00" r="1.2"/><circle cx="224.80" cy="190.00" r="1.2"/><circle cx="225.40" cy="176.00" r="1.2"/><circle cx="226.00" cy="192.00" r="1.2"/><circle cx="226.26" cy="184.38" r="1.2"/><circle cx="226.60" cy="175.00" r="1.2"/><circle cx="227.00" cy="168.12" r="1.2"/><circle cx="227.50" cy="156.25" r="1.2"/><circle cx="228.10" cy="165.00" r="1.2"/><circle cx="228.75" cy="163.75" r="1.2"/><circle cx="229.03" cy="169.37" r="1.2"/><circle cx="229.40" cy="180.00" r="1.2"/><circle cx="230.00" cy="172.50" r="1.2"/><circle cx="230.25" cy="179.39" r="1.2"/><circle cx="230.60" cy="190.00" r="1.2"/><circle cx="231.25" cy="199.50" r="1.2"/><circle cx="231.63" cy="186.45" r="1.2"/><circle cx="231.90" cy="175.00" r="1.2"/><circle cx="232.23" cy="166.24" r="1.2"/><circle cx="232.50" cy="156.25" r="1.2"/><circle cx="233.10" cy="170.00" r="1.2"/><circle cx="233.70" cy="180.00" r="1.2"/><circle cx="234.30" cy="165.00" r="1.2"/><circle cx="234.71" cy="181.34" r="1.2"/><circle cx="235.00" cy="193.75" r="1.2"/><circle cx="235.26" cy="184.68" r="1.2"/><circle cx="235.60" cy="170.00" r="1.2"/><circle cx="236.25" cy="157.50" r="1.2"/><circle cx="236.90" cy="168.00" r="1.2"/><circle cx="237.23" cy="152.59" r="1.2"/><circle cx="237.50" cy="142.50" r="1.2"/><circle cx="237.82" cy="151.46" r="1.2"/><circle cx="238.10" cy="160.00" r="1.2"/><circle cx="238.70" cy="175.00" r="1.2"/><circle cx="238.98" cy="165.00" r="1.2"/><circle cx="239.30" cy="155.00" r="1.2"/><circle cx="240.00" cy="141.00" r="1.2"/><circle cx="240.26" cy="147.75" r="1.2"/><circle cx="240.60" cy="160.00" r="1.2"/><circle cx="241.20" cy="150.00" r="1.2"/><circle cx="241.80" cy="162.00" r="1.2"/><circle cx="242.12" cy="153.80" r="1.2"/><circle cx="242.50" cy="145.00" r="1.2"/><circle cx="243.10" cy="158.00" r="1.2"/><circle cx="243.70" cy="150.00" r="1.2"/><circle cx="244.30" cy="155.00" r="1.2"/><circle cx="244.71" cy="168.65" r="1.2"/><circle cx="245.00" cy="180.00" r="1.2"/><circle cx="245.36" cy="167.27" r="1.2"/><circle cx="245.60" cy="160.00" r="1.2"/><circle cx="246.25" cy="150.00" r="1.2"/><circle cx="246.90" cy="165.00" r="1.2"/><circle cx="247.50" cy="155.00" r="1.2"/><circle cx="247.78" cy="165.39" r="1.2"/><circle cx="248.10" cy="175.00" r="1.2"/><circle cx="248.47" cy="156.45" r="1.2"/><circle cx="248.75" cy="142.50" r="1.2"/><circle cx="249.40" cy="155.00" r="1.2"/><circle cx="250.00" cy="148.00" r="1.2"/><circle cx="250.60" cy="160.00" r="1.2"/><circle cx="250.87" cy="144.04" r="1.2"/><circle cx="251.25" cy="121.25" r="1.2"/><circle cx="251.56" cy="131.41" r="1.2"/><circle cx="251.90" cy="140.00" r="1.2"/><circle cx="252.50" cy="127.50" r="1.2"/><circle cx="252.76" cy="134.77" r="1.2"/><circle cx="253.10" cy="145.00" r="1.2"/><circle cx="253.70" cy="135.00" r="1.2"/><circle cx="254.30" cy="150.00" r="1.2"/><circle cx="255.00" cy="140.00" r="1.2"/><circle cx="255.50" cy="148.75" r="1.2"/><circle cx="255.91" cy="133.58" r="1.2"/><circle cx="256.20" cy="125.00" r="1.2"/><circle cx="256.80" cy="132.00" r="1.2"/><circle cx="257.14" cy="124.14" r="1.2"/><circle cx="257.50" cy="113.75" r="1.2"/><circle cx="258.10" cy="100.00" r="1.2"/><circle cx="258.75" cy="90.00" r="1.2"/><circle cx="259.50" cy="85.00" r="1.2"/><circle cx="259.83" cy="94.69" r="1.2"/><circle cx="260.10" cy="105.00" r="1.2"/><circle cx="260.30" cy="111.83" r="1.2"/><circle cx="260.60" cy="125.00" r="1.2"/><circle cx="260.98" cy="135.37" r="1.2"/><circle cx="261.25" cy="144.00" r="1.2"/><circle cx="261.90" cy="130.00" r="1.2"/><circle cx="262.50" cy="135.00" r="1.2"/><circle cx="263.00" cy="143.75" r="1.2"/><circle cx="263.60" cy="128.00" r="1.2"/><circle cx="264.20" cy="135.00" r="1.2"/><circle cx="264.80" cy="127.00" r="1.2"/><circle cx="265.13" cy="118.85" r="1.2"/><circle cx="265.40" cy="110.00" r="1.2"/><circle cx="266.00" cy="95.00" r="1.2"/><circle cx="266.23" cy="103.67" r="1.2"/><circle cx="266.50" cy="115.00" r="1.2"/><circle cx="267.00" cy="100.00" r="1.2"/><circle cx="267.50" cy="88.75" r="1.2"/><circle cx="267.85" cy="101.67" r="1.2"/><circle cx="268.10" cy="110.00" r="1.2"/><circle cx="268.39" cy="121.96" r="1.2"/><circle cx="268.75" cy="135.00" r="1.2"/><circle cx="269.05" cy="123.67" r="1.2"/><circle cx="269.40" cy="112.00" r="1.2"/><circle cx="270.00" cy="127.50" r="1.2"/><circle cx="270.24" cy="119.25" r="1.2"/><circle cx="270.60" cy="105.00" r="1.2"/><circle cx="271.20" cy="117.50" r="1.2"/><circle cx="271.80" cy="102.00" r="1.2"/><circle cx="272.50" cy="91.25" r="1.2"/><circle cx="272.85" cy="102.59" r="1.2"/><circle cx="273.10" cy="110.00" r="1.2"/><circle cx="273.70" cy="100.00" r="1.2"/><circle cx="274.05" cy="110.35" r="1.2"/><circle cx="274.30" cy="120.00" r="1.2"/><circle cx="275.00" cy="123.75" r="1.2"/><circle cx="275.27" cy="113.06" r="1.2"/><circle cx="275.60" cy="100.00" r="1.2"/><circle cx="276.25" cy="112.50" r="1.2"/><circle cx="276.63" cy="103.51" r="1.2"/><circle cx="276.90" cy="95.00" r="1.2"/><circle cx="277.19" cy="102.61" r="1.2"/><circle cx="277.50" cy="112.50" r="1.2"/><circle cx="277.79" cy="103.98" r="1.2"/><circle cx="278.10" cy="95.00" r="1.2"/><circle cx="278.75" cy="87.50" r="1.2"/><circle cx="279.40" cy="100.00" r="1.2"/><circle cx="279.75" cy="83.68" r="1.2"/><circle cx="280.00" cy="73.75" r="1.2"/><circle cx="280.34" cy="86.38" r="1.2"/><circle cx="280.60" cy="95.00" r="1.2"/><circle cx="281.20" cy="85.00" r="1.2"/><circle cx="281.80" cy="100.00" r="1.2"/><circle cx="282.20" cy="86.70" r="1.2"/><circle cx="282.50" cy="75.00" r="1.2"/><circle cx="283.10" cy="90.00" r="1.2"/><circle cx="283.75" cy="87.50" r="1.2"/><circle cx="284.40" cy="100.00" r="1.2"/><circle cx="285.00" cy="98.75" r="1.2"/><circle cx="285.60" cy="90.00" r="1.2"/><circle cx="286.20" cy="103.75" r="1.2"/><circle cx="286.80" cy="92.00" r="1.2"/><circle cx="287.50" cy="97.50" r="1.2"/><circle cx="288.10" cy="88.00" r="1.2"/><circle cx="288.70" cy="102.00" r="1.2"/><circle cx="289.30" cy="90.00" r="1.2"/><circle cx="290.00" cy="82.50" r="1.2"/><circle cx="290.60" cy="95.00" r="1.2"/><circle cx="291.20" cy="85.00" r="1.2"/><circle cx="291.80" cy="92.00" r="1.2"/><circle cx="292.17" cy="80.01" r="1.2"/><circle cx="292.50" cy="70.00" r="1.2"/><circle cx="293.10" cy="80.00" r="1.2"/><circle cx="293.70" cy="88.75" r="1.2"/><circle cx="294.30" cy="78.00" r="1.2"/><circle cx="295.00" cy="73.75" r="1.2"/><circle cx="295.60" cy="88.75" r="1.2"/><circle cx="296.20" cy="80.00" r="1.2"/><circle cx="296.80" cy="90.00" r="1.2"/><circle cx="297.12" cy="80.31" r="1.2"/><circle cx="297.50" cy="70.00" r="1.2"/><circle cx="298.10" cy="82.00" r="1.2"/><circle cx="298.70" cy="75.00" r="1.2"/><circle cx="299.50" cy="67.50" r="1.2"/><circle cx="300.20" cy="80.00" r="1.2"/><circle cx="300.48" cy="67.61" r="1.2"/><circle cx="300.70" cy="60.00" r="1.2"/><circle cx="300.94" cy="53.07" r="1.2"/><circle cx="301.25" cy="42.50" r="1.2"/><circle cx="301.54" cy="51.31" r="1.2"/><circle cx="301.90" cy="65.00" r="1.2"/><circle cx="302.50" cy="65.00" r="1.2"/><circle cx="303.10" cy="78.00" r="1.2"/><circle cx="303.70" cy="85.00" r="1.2"/><circle cx="304.30" cy="72.00" r="1.2"/><circle cx="304.58" cy="79.99" r="1.2"/><circle cx="305.00" cy="91.25" r="1.2"/><circle cx="305.28" cy="85.13" r="1.2"/><circle cx="305.60" cy="75.00" r="1.2"/><circle cx="306.25" cy="65.00" r="1.2"/><circle cx="306.90" cy="80.00" r="1.2"/><circle cx="307.50" cy="70.00" r="1.2"/><circle cx="308.10" cy="62.00" r="1.2"/><circle cx="308.75" cy="53.75" r="1.2"/><circle cx="309.12" cy="67.47" r="1.2"/><circle cx="309.40" cy="75.00" r="1.2"/><circle cx="310.00" cy="80.00" r="1.2"/><circle cx="310.23" cy="86.68" r="1.2"/><circle cx="310.50" cy="97.50" r="1.2"/><circle cx="311.10" cy="85.00" r="1.2"/><circle cx="311.80" cy="78.00" r="1.2"/><circle cx="312.50" cy="72.50" r="1.2"/><circle cx="313.10" cy="80.00" r="1.2"/><circle cx="313.75" cy="87.50" r="1.2"/><circle cx="314.40" cy="75.00" r="1.2"/><circle cx="315.00" cy="66.25" r="1.2"/><circle cx="315.60" cy="58.00" r="1.2"/><circle cx="316.25" cy="48.75" r="1.2"/><circle cx="316.90" cy="52.00" r="1.2"/><circle cx="317.50" cy="45.50" r="1.2"/><circle cx="318.10" cy="55.00" r="1.2"/><circle cx="318.75" cy="50.00" r="1.2"/><circle cx="319.40" cy="65.00" r="1.2"/><circle cx="320.00" cy="80.00" r="1.2"/><circle cx="320.60" cy="72.00" r="1.2"/><circle cx="321.25" cy="67.50" r="1.2"/><circle cx="321.90" cy="75.00" r="1.2"/><circle cx="322.50" cy="68.00" r="1.2"/><circle cx="323.10" cy="64.00" r="1.2"/><circle cx="323.75" cy="61.25" r="1.2"/><circle cx="324.40" cy="68.00" r="1.2"/><circle cx="325.00" cy="71.25" r="1.2"/><circle cx="325.60" cy="75.00" r="1.2"/><circle cx="326.25" cy="67.50" r="1.2"/><circle cx="326.90" cy="82.00" r="1.2"/><circle cx="327.50" cy="97.50" r="1.2"/><circle cx="328.10" cy="90.00" r="1.2"/><circle cx="328.75" cy="83.75" r="1.2"/><circle cx="329.40" cy="80.00" r="1.2"/><circle cx="330.00" cy="75.00" r="1.2"/><circle cx="330.60" cy="85.00" r="1.2"/><circle cx="331.20" cy="78.00" r="1.2"/><circle cx="331.90" cy="73.00" r="1.2"/><circle cx="332.50" cy="71.25" r="1.2"/><circle cx="333.10" cy="80.00" r="1.2"/><circle cx="333.80" cy="70.00" r="1.2"/><circle cx="334.50" cy="63.75" r="1.2"/><circle cx="335.10" cy="75.00" r="1.2"/><circle cx="335.70" cy="85.00" r="1.2"/><circle cx="336.25" cy="82.50" r="1.2"/><circle cx="336.90" cy="95.00" r="1.2"/><circle cx="337.50" cy="108.75" r="1.2"/><circle cx="337.75" cy="99.31" r="1.2"/><circle cx="338.10" cy="86.25" r="1.2"/><circle cx="338.80" cy="95.00" r="1.2"/><circle cx="339.40" cy="100.00" r="1.2"/><circle cx="340.00" cy="87.50" r="1.2"/><circle cx="340.60" cy="100.00" r="1.2"/><circle cx="341.20" cy="92.00" r="1.2"/><circle cx="341.80" cy="105.00" r="1.2"/><circle cx="342.50" cy="90.00" r="1.2"/><circle cx="342.77" cy="101.36" r="1.2"/><circle cx="343.00" cy="111.25" r="1.2"/><circle cx="343.75" cy="97.50" r="1.2"/><circle cx="344.40" cy="90.00" r="1.2"/><circle cx="345.00" cy="100.00" r="1.2"/><circle cx="345.60" cy="85.00" r="1.2"/><circle cx="346.25" cy="76.25" r="1.2"/><circle cx="346.90" cy="85.00" r="1.2"/><circle cx="347.50" cy="90.00" r="1.2"/><circle cx="348.10" cy="100.00" r="1.2"/><circle cx="348.70" cy="92.00" r="1.2"/><circle cx="349.40" cy="105.00" r="1.2"/><circle cx="350.00" cy="100.00" r="1.2"/><circle cx="350.60" cy="108.75" r="1.2"/><circle cx="351.25" cy="105.00" r="1.2"/><circle cx="351.90" cy="120.00" r="1.2"/><circle cx="352.50" cy="110.00" r="1.2"/><circle cx="352.77" cy="117.57" r="1.2"/><circle cx="353.10" cy="127.50" r="1.2"/><circle cx="353.70" cy="115.00" r="1.2"/><circle cx="354.40" cy="122.00" r="1.2"/><circle cx="355.00" cy="110.00" r="1.2"/><circle cx="355.60" cy="118.00" r="1.2"/><circle cx="356.25" cy="115.00" r="1.2"/><circle cx="356.90" cy="125.00" r="1.2"/><circle cx="357.50" cy="127.50" r="1.2"/><circle cx="358.10" cy="118.00" r="1.2"/><circle cx="358.41" cy="127.43" r="1.2"/><circle cx="358.70" cy="135.00" r="1.2"/><circle cx="359.40" cy="126.00" r="1.2"/><circle cx="360.00" cy="122.50" r="1.2"/><circle cx="360.60" cy="135.00" r="1.2"/><circle cx="361.25" cy="146.25" r="1.2"/><circle cx="361.61" cy="138.36" r="1.2"/><circle cx="361.90" cy="130.00" r="1.2"/><circle cx="362.50" cy="125.00" r="1.2"/><circle cx="363.10" cy="120.00" r="1.2"/><circle cx="363.75" cy="115.00" r="1.2"/><circle cx="364.10" cy="122.92" r="1.2"/><circle cx="364.40" cy="132.00" r="1.2"/><circle cx="365.00" cy="140.00" r="1.2"/><circle cx="365.60" cy="130.00" r="1.2"/><circle cx="366.20" cy="138.00" r="1.2"/><circle cx="367.00" cy="150.00" r="1.2"/><circle cx="367.60" cy="140.00" r="1.2"/><circle cx="368.20" cy="135.00" r="1.2"/><circle cx="368.75" cy="131.25" r="1.2"/><circle cx="369.40" cy="140.00" r="1.2"/><circle cx="370.00" cy="142.50" r="1.2"/><circle cx="370.60" cy="130.00" r="1.2"/><circle cx="371.25" cy="122.50" r="1.2"/><circle cx="371.90" cy="135.00" r="1.2"/><circle cx="372.50" cy="143.75" r="1.2"/><circle cx="373.10" cy="152.00" r="1.2"/><circle cx="373.70" cy="145.00" r="1.2"/><circle cx="374.40" cy="158.00" r="1.2"/><circle cx="375.00" cy="152.50" r="1.2"/><circle cx="375.60" cy="165.00" r="1.2"/><circle cx="376.25" cy="160.00" r="1.2"/><circle cx="376.90" cy="170.00" r="1.2"/><circle cx="377.50" cy="182.50" r="1.2"/><circle cx="377.84" cy="171.94" r="1.2"/><circle cx="378.10" cy="165.00" r="1.2"/><circle cx="378.75" cy="157.50" r="1.2"/><circle cx="379.40" cy="170.00" r="1.2"/><circle cx="380.00" cy="160.00" r="1.2"/><circle cx="380.60" cy="172.50" r="1.2"/><circle cx="381.25" cy="158.75" r="1.2"/><circle cx="381.58" cy="176.98" r="1.2"/><circle cx="381.90" cy="195.00" r="1.2"/><circle cx="382.50" cy="205.00" r="1.2"/><circle cx="383.00" cy="215.00" r="1.2"/><circle cx="383.60" cy="200.00" r="1.2"/><circle cx="384.20" cy="185.00" r="1.2"/><circle cx="384.80" cy="195.00" r="1.2"/><circle cx="385.40" cy="180.00" r="1.2"/><circle cx="385.73" cy="188.95" r="1.2"/><circle cx="386.00" cy="198.00" r="1.2"/><circle cx="386.60" cy="185.00" r="1.2"/><circle cx="386.87" cy="191.88" r="1.2"/><circle cx="387.20" cy="202.00" r="1.2"/><circle cx="387.46" cy="192.82" r="1.2"/><circle cx="387.80" cy="178.00" r="1.2"/><circle cx="388.40" cy="190.00" r="1.2"/><circle cx="388.58" cy="166.79" r="1.2"/><circle cx="388.75" cy="146.00" r="1.2"/><circle cx="389.06" cy="163.77" r="1.2"/><circle cx="389.40" cy="180.00" r="1.2"/><circle cx="389.70" cy="164.15" r="1.2"/><circle cx="390.00" cy="150.00" r="1.2"/><circle cx="390.60" cy="145.00" r="1.2"/><circle cx="391.25" cy="136.25" r="1.2"/><circle cx="391.90" cy="130.00" r="1.2"/><circle cx="392.50" cy="123.75" r="1.2"/><circle cx="393.10" cy="135.00" r="1.2"/><circle cx="393.75" cy="145.00" r="1.2"/><circle cx="394.40" cy="160.00" r="1.2"/><circle cx="395.00" cy="171.25" r="1.2"/><circle cx="395.34" cy="182.24" r="1.2"/><circle cx="395.60" cy="190.00" r="1.2"/><circle cx="396.25" cy="203.75" r="1.2"/><circle cx="396.90" cy="190.00" r="1.2"/><circle cx="397.50" cy="203.00" r="1.2"/><circle cx="397.80" cy="175.79" r="1.2"/><circle cx="398.00" cy="159.50" r="1.2"/><circle cx="398.60" cy="175.00" r="1.2"/><circle cx="399.20" cy="185.00" r="1.2"/><circle cx="400.00" cy="177.50" r="1.2"/><circle cx="400.30" cy="187.12" r="1.2"/><circle cx="400.60" cy="195.00" r="1.2"/><circle cx="401.11" cy="216.13" r="1.2"/><circle cx="401.50" cy="230.00" r="1.2"/><circle cx="401.74" cy="219.18" r="1.2"/><circle cx="402.10" cy="205.00" r="1.2"/><circle cx="402.70" cy="190.00" r="1.2"/><circle cx="403.30" cy="200.00" r="1.2"/><circle cx="404.00" cy="206.00" r="1.2"/><circle cx="404.25" cy="196.17" r="1.2"/><circle cx="404.60" cy="185.00" r="1.2"/><circle cx="405.25" cy="198.75" r="1.2"/><circle cx="405.64" cy="189.04" r="1.2"/><circle cx="405.90" cy="182.00" r="1.2"/><circle cx="406.50" cy="195.00" r="1.2"/><circle cx="407.09" cy="184.36" r="1.2"/><circle cx="407.50" cy="177.50" r="1.2"/><circle cx="408.10" cy="190.00" r="1.2"/><circle cx="408.47" cy="166.92" r="1.2"/><circle cx="408.75" cy="150.00" r="1.2"/><circle cx="409.50" cy="146.25" r="1.2"/><circle cx="409.84" cy="167.99" r="1.2"/><circle cx="410.25" cy="192.50" r="1.2"/><circle cx="410.63" cy="178.06" r="1.2"/><circle cx="410.90" cy="170.00" r="1.2"/><circle cx="411.21" cy="187.23" r="1.2"/><circle cx="411.50" cy="202.50" r="1.2"/><circle cx="411.72" cy="179.93" r="1.2"/><circle cx="412.00" cy="152.50" r="1.2"/><circle cx="412.21" cy="168.74" r="1.2"/><circle cx="412.50" cy="192.50" r="1.2"/><circle cx="412.77" cy="180.40" r="1.2"/><circle cx="413.10" cy="165.00" r="1.2"/><circle cx="413.44" cy="155.49" r="1.2"/><circle cx="413.75" cy="148.75" r="1.2"/><circle cx="414.40" cy="158.00" r="1.2"/><circle cx="415.00" cy="162.50" r="1.2"/><circle cx="415.60" cy="175.00" r="1.2"/><circle cx="416.25" cy="182.50" r="1.2"/><circle cx="416.90" cy="170.00" r="1.2"/><circle cx="417.50" cy="160.00" r="1.2"/><circle cx="418.10" cy="150.00" r="1.2"/><circle cx="418.75" cy="142.50" r="1.2"/><circle cx="419.40" cy="155.00" r="1.2"/><circle cx="420.00" cy="145.00" r="1.2"/><circle cx="420.60" cy="150.00" r="1.2"/><circle cx="420.86" cy="138.92" r="1.2"/><circle cx="421.25" cy="123.75" r="1.2"/><circle cx="421.60" cy="131.51" r="1.2"/><circle cx="421.90" cy="140.00" r="1.2"/><circle cx="422.50" cy="155.00" r="1.2"/><circle cx="423.10" cy="145.00" r="1.2"/><circle cx="423.40" cy="156.25" r="1.2"/><circle cx="423.75" cy="171.25" r="1.2"/><circle cx="424.11" cy="159.51" r="1.2"/><circle cx="424.40" cy="150.00" r="1.2"/><circle cx="425.00" cy="138.00" r="1.2"/><circle cx="425.60" cy="145.00" r="1.2"/><circle cx="426.20" cy="132.00" r="1.2"/><circle cx="426.80" cy="140.00" r="1.2"/><circle cx="427.09" cy="126.94" r="1.2"/><circle cx="427.50" cy="111.25" r="1.2"/><circle cx="427.79" cy="122.78" r="1.2"/><circle cx="428.10" cy="135.00" r="1.2"/><circle cx="428.70" cy="125.00" r="1.2"/><circle cx="429.40" cy="140.00" r="1.2"/><circle cx="429.72" cy="126.24" r="1.2"/><circle cx="430.00" cy="116.25" r="1.2"/><circle cx="430.60" cy="130.00" r="1.2"/><circle cx="431.25" cy="145.00" r="1.2"/><circle cx="431.53" cy="136.93" r="1.2"/><circle cx="431.90" cy="125.00" r="1.2"/><circle cx="432.50" cy="110.00" r="1.2"/><circle cx="433.10" cy="115.00" r="1.2"/><circle cx="433.41" cy="105.92" r="1.2"/><circle cx="433.75" cy="97.50" r="1.2"/><circle cx="434.40" cy="110.00" r="1.2"/><circle cx="435.00" cy="120.00" r="1.2"/><circle cx="435.60" cy="105.00" r="1.2"/><circle cx="436.25" cy="98.75" r="1.2"/><circle cx="436.90" cy="110.00" r="1.2"/><circle cx="437.50" cy="95.00" r="1.2"/><circle cx="437.78" cy="105.59" r="1.2"/><circle cx="438.10" cy="115.00" r="1.2"/><circle cx="438.75" cy="110.00" r="1.2"/><circle cx="439.40" cy="125.00" r="1.2"/><circle cx="440.00" cy="115.00" r="1.2"/><circle cx="440.60" cy="128.00" r="1.2"/><circle cx="441.25" cy="133.75" r="1.2"/><circle cx="441.90" cy="120.00" r="1.2"/><circle cx="442.50" cy="125.00" r="1.2"/><circle cx="443.10" cy="115.00" r="1.2"/><circle cx="443.40" cy="123.87" r="1.2"/><circle cx="443.75" cy="133.75" r="1.2"/><circle cx="444.40" cy="120.00" r="1.2"/><circle cx="445.00" cy="110.00" r="1.2"/><circle cx="445.60" cy="115.00" r="1.2"/><circle cx="446.25" cy="103.75" r="1.2"/><circle cx="446.90" cy="110.00" r="1.2"/><circle cx="447.50" cy="97.50" r="1.2"/><circle cx="448.10" cy="92.00" r="1.2"/><circle cx="448.75" cy="80.00" r="1.2"/><circle cx="449.40" cy="90.00" r="1.2"/><circle cx="449.68" cy="80.32" r="1.2"/><circle cx="450.00" cy="70.00" r="1.2"/><circle cx="450.60" cy="85.00" r="1.2"/><circle cx="451.20" cy="78.00" r="1.2"/><circle cx="451.54" cy="89.23" r="1.2"/><circle cx="451.80" cy="95.00" r="1.2"/><circle cx="452.13" cy="80.50" r="1.2"/><circle cx="452.50" cy="66.25" r="1.2"/><circle cx="452.83" cy="86.50" r="1.2"/><circle cx="453.10" cy="105.00" r="1.2"/><circle cx="453.36" cy="119.24" r="1.2"/><circle cx="453.75" cy="137.50" r="1.2"/><circle cx="454.07" cy="125.13" r="1.2"/><circle cx="454.40" cy="110.00" r="1.2"/><circle cx="455.00" cy="115.00" r="1.2"/><circle cx="455.29" cy="104.12" r="1.2"/><circle cx="455.60" cy="90.00" r="1.2"/><circle cx="456.25" cy="77.50" r="1.2"/><circle cx="456.90" cy="92.00" r="1.2"/><circle cx="457.50" cy="100.00" r="1.2"/><circle cx="458.10" cy="115.00" r="1.2"/><circle cx="458.42" cy="97.38" r="1.2"/><circle cx="458.75" cy="81.25" r="1.2"/><circle cx="459.01" cy="92.99" r="1.2"/><circle cx="459.40" cy="110.00" r="1.2"/><circle cx="459.72" cy="121.13" r="1.2"/><circle cx="460.00" cy="128.75" r="1.2"/><circle cx="460.25" cy="115.02" r="1.2"/><circle cx="460.60" cy="95.00" r="1.2"/><circle cx="460.91" cy="82.57" r="1.2"/><circle cx="461.25" cy="68.75" r="1.2"/><circle cx="461.53" cy="75.07" r="1.2"/><circle cx="461.90" cy="85.00" r="1.2"/><circle cx="462.50" cy="80.00" r="1.2"/><circle cx="463.10" cy="92.00" r="1.2"/><circle cx="463.43" cy="84.70" r="1.2"/><circle cx="463.75" cy="75.00" r="1.2"/><circle cx="464.40" cy="90.00" r="1.2"/><circle cx="465.00" cy="85.00" r="1.2"/><circle cx="465.60" cy="95.00" r="1.2"/><circle cx="465.87" cy="87.59" r="1.2"/><circle cx="466.25" cy="77.50" r="1.2"/><circle cx="466.90" cy="70.00" r="1.2"/><circle cx="467.50" cy="62.50" r="1.2"/><circle cx="468.10" cy="75.00" r="1.2"/><circle cx="468.80" cy="85.00" r="1.2"/><circle cx="469.50" cy="98.75" r="1.2"/><circle cx="469.78" cy="77.71" r="1.2"/><circle cx="470.00" cy="58.75" r="1.2"/><circle cx="470.60" cy="72.00" r="1.2"/><circle cx="471.25" cy="80.00" r="1.2"/><circle cx="471.90" cy="68.00" r="1.2"/><circle cx="472.50" cy="61.25" r="1.2"/><circle cx="473.10" cy="75.00" r="1.2"/><circle cx="473.75" cy="87.50" r="1.2"/><circle cx="474.04" cy="78.69" r="1.2"/><circle cx="474.40" cy="70.00" r="1.2"/><circle cx="475.00" cy="60.00" r="1.2"/><circle cx="475.60" cy="72.00" r="1.2"/><circle cx="476.25" cy="77.50" r="1.2"/><circle cx="476.90" cy="65.00" r="1.2"/><circle cx="477.50" cy="78.75" r="1.2"/><circle cx="477.85" cy="69.14" r="1.2"/><circle cx="478.10" cy="60.00" r="1.2"/><circle cx="478.75" cy="51.25" r="1.2"/><circle cx="479.40" cy="55.00" r="1.2"/><circle cx="480.00" cy="45.00" r="1.2"/><circle cx="480.60" cy="50.00" r="1.2"/><circle cx="481.25" cy="42.50" r="1.2"/><circle cx="481.57" cy="49.85" r="1.2"/><circle cx="481.90" cy="60.00" r="1.2"/><circle cx="482.25" cy="69.17" r="1.2"/><circle cx="482.50" cy="76.25" r="1.2"/><circle cx="483.10" cy="70.00" r="1.2"/><circle cx="483.75" cy="65.00" r="1.2"/><circle cx="484.40" cy="62.00" r="1.2"/><circle cx="485.00" cy="57.50" r="1.2"/><circle cx="485.60" cy="62.00" r="1.2"/><circle cx="486.25" cy="65.00" r="1.2"/><circle cx="486.90" cy="60.00" r="1.2"/><circle cx="487.50" cy="58.75" r="1.2"/><circle cx="488.10" cy="65.00" r="1.2"/><circle cx="488.75" cy="71.25" r="1.2"/><circle cx="489.40" cy="65.00" r="1.2"/><circle cx="490.00" cy="61.25" r="1.2"/><circle cx="490.60" cy="58.00" r="1.2"/><circle cx="491.20" cy="55.00" r="1.2"/><circle cx="491.90" cy="60.00" r="1.2"/><circle cx="492.50" cy="51.25" r="1.2"/><circle cx="493.10" cy="55.00" r="1.2"/><circle cx="493.70" cy="52.00" r="1.2"/><circle cx="494.40" cy="58.00" r="1.2"/><circle cx="495.00" cy="56.25" r="1.2"/><circle cx="495.60" cy="52.00" r="1.2"/><circle cx="496.25" cy="50.00" r="1.2"/><circle cx="496.90" cy="45.00" r="1.2"/><circle cx="497.50" cy="42.50" r="1.2"/><circle cx="498.10" cy="40.00" r="1.2"/><circle cx="498.75" cy="38.75" r="1.2"/><circle cx="499.40" cy="36.00" r="1.2"/><circle cx="500.00" cy="33.75" r="1.2"/><circle cx="500.60" cy="36.00" r="1.2"/><circle cx="501.25" cy="35.00" r="1.2"/><circle cx="501.60" cy="38.00" r="1.2"/><circle cx="502.00" cy="40.00" r="1.2"/><circle cx="502.23" cy="55.46" r="1.2"/><circle cx="502.40" cy="66.00" r="1.2"/><circle cx="503.00" cy="70.00" r="1.2"/><circle cx="503.60" cy="64.00" r="1.2"/><circle cx="504.20" cy="72.00" r="1.2"/><circle cx="504.80" cy="68.00" r="1.2"/><circle cx="505.40" cy="76.00" r="1.2"/><circle cx="506.00" cy="73.00" r="1.2"/><circle cx="506.60" cy="80.00" r="1.2"/><circle cx="507.20" cy="78.00" r="1.2"/><circle cx="507.80" cy="86.00" r="1.2"/><circle cx="508.10" cy="90.00" r="1.2"/><circle cx="508.70" cy="85.00" r="1.2"/><circle cx="509.40" cy="95.00" r="1.2"/><circle cx="510.00" cy="88.00" r="1.2"/><circle cx="510.60" cy="95.00" r="1.2"/><circle cx="511.25" cy="100.00" r="1.2"/><circle cx="511.90" cy="90.00" r="1.2"/><circle cx="512.50" cy="81.25" r="1.2"/><circle cx="513.10" cy="92.00" r="1.2"/><circle cx="513.75" cy="85.00" r="1.2"/><circle cx="514.40" cy="100.00" r="1.2"/><circle cx="514.74" cy="89.80" r="1.2"/><circle cx="515.00" cy="83.75" r="1.2"/><circle cx="515.60" cy="95.00" r="1.2"/><circle cx="516.25" cy="110.00" r="1.2"/><circle cx="516.90" cy="100.00" r="1.2"/><circle cx="517.50" cy="111.25" r="1.2"/><circle cx="517.83" cy="101.36" r="1.2"/><circle cx="518.10" cy="95.00" r="1.2"/><circle cx="518.75" cy="86.25" r="1.2"/><circle cx="519.40" cy="100.00" r="1.2"/><circle cx="520.00" cy="110.00" r="1.2"/><circle cx="520.60" cy="95.00" r="1.2"/><circle cx="521.25" cy="90.00" r="1.2"/><circle cx="522.00" cy="79.50" r="1.2"/><circle cx="522.60" cy="95.00" r="1.2"/><circle cx="523.20" cy="105.00" r="1.2"/><circle cx="523.80" cy="95.00" r="1.2"/><circle cx="524.40" cy="110.00" r="1.2"/><circle cx="525.00" cy="122.50" r="1.2"/><circle cx="525.29" cy="115.12" r="1.2"/><circle cx="525.60" cy="105.00" r="1.2"/><circle cx="526.25" cy="100.00" r="1.2"/><circle cx="526.90" cy="115.00" r="1.2"/><circle cx="527.50" cy="125.00" r="1.2"/><circle cx="528.10" cy="115.00" r="1.2"/><circle cx="528.75" cy="107.50" r="1.2"/><circle cx="529.12" cy="118.57" r="1.2"/><circle cx="529.40" cy="128.75" r="1.2"/><circle cx="530.00" cy="115.00" r="1.2"/><circle cx="530.60" cy="120.00" r="1.2"/><circle cx="531.20" cy="110.00" r="1.2"/><circle cx="531.51" cy="117.46" r="1.2"/><circle cx="531.90" cy="127.50" r="1.2"/><circle cx="532.50" cy="135.00" r="1.2"/><circle cx="533.10" cy="145.00" r="1.2"/><circle cx="533.75" cy="158.75" r="1.2"/><circle cx="534.08" cy="148.96" r="1.2"/><circle cx="534.40" cy="140.00" r="1.2"/><circle cx="535.00" cy="130.00" r="1.2"/><circle cx="535.60" cy="145.00" r="1.2"/><circle cx="536.20" cy="135.00" r="1.2"/><circle cx="536.90" cy="140.00" r="1.2"/><circle cx="537.15" cy="132.34" r="1.2"/><circle cx="537.50" cy="123.75" r="1.2"/><circle cx="538.10" cy="135.00" r="1.2"/><circle cx="538.75" cy="148.75" r="1.2"/><circle cx="539.40" cy="135.00" r="1.2"/><circle cx="540.00" cy="145.00" r="1.2"/><circle cx="540.60" cy="130.00" r="1.2"/><circle cx="541.20" cy="140.00" r="1.2"/><circle cx="541.90" cy="133.00" r="1.2"/><circle cx="542.50" cy="145.00" r="1.2"/><circle cx="543.10" cy="135.00" r="1.2"/><circle cx="543.75" cy="140.00" r="1.2"/><circle cx="544.50" cy="130.00" r="1.2"/><circle cx="544.83" cy="142.09" r="1.2"/><circle cx="545.10" cy="150.00" r="1.2"/><circle cx="545.70" cy="160.00" r="1.2"/><circle cx="546.30" cy="148.00" r="1.2"/><circle cx="546.54" cy="156.15" r="1.2"/><circle cx="546.90" cy="167.50" r="1.2"/><circle cx="547.50" cy="177.50" r="1.2"/><circle cx="547.83" cy="166.46" r="1.2"/><circle cx="548.10" cy="160.00" r="1.2"/><circle cx="548.75" cy="152.50" r="1.2"/><circle cx="549.06" cy="168.38" r="1.2"/><circle cx="549.30" cy="182.50" r="1.2"/><circle cx="550.00" cy="168.75" r="1.2"/><circle cx="550.60" cy="160.00" r="1.2"/><circle cx="551.25" cy="157.50" r="1.2"/><circle cx="551.90" cy="167.50" r="1.2"/><circle cx="552.50" cy="160.00" r="1.2"/><circle cx="553.10" cy="165.00" r="1.2"/><circle cx="553.75" cy="158.00" r="1.2"/><circle cx="554.50" cy="148.75" r="1.2"/><circle cx="554.81" cy="157.35" r="1.2"/><circle cx="555.10" cy="165.00" r="1.2"/><circle cx="555.70" cy="175.00" r="1.2"/><circle cx="556.30" cy="186.00" r="1.2"/><circle cx="556.62" cy="174.39" r="1.2"/><circle cx="556.90" cy="165.00" r="1.2"/><circle cx="557.50" cy="172.00" r="1.2"/><circle cx="558.10" cy="160.00" r="1.2"/><circle cx="558.75" cy="155.00" r="1.2"/><circle cx="559.40" cy="170.00" r="1.2"/><circle cx="560.00" cy="165.00" r="1.2"/><circle cx="560.29" cy="173.72" r="1.2"/><circle cx="560.60" cy="182.50" r="1.2"/><circle cx="561.20" cy="170.00" r="1.2"/><circle cx="561.54" cy="180.18" r="1.2"/><circle cx="561.90" cy="190.00" r="1.2"/><circle cx="562.50" cy="180.00" r="1.2"/><circle cx="563.10" cy="195.00" r="1.2"/><circle cx="563.60" cy="200.00" r="1.2"/></g>
<g stroke="#000" stroke-width="1.3" fill="none">
<path d="M44.20 5.30H564.30V251.30H44.20Z"/>
<path d="M44.20 32.63H48.50"/>
<path d="M44.20 59.97H48.50"/>
<path d="M44.20 87.30H48.50"/>
<path d="M44.20 114.63H48.50"/>
<path d="M44.20 141.97H48.50"/>
<path d="M44.20 169.30H48.50"/>
<path d="M44.20 196.63H48.50"/>
<path d="M44.20 223.97H48.50"/>
<path d="M560.00 210.30H564.30"/>
<path d="M560.00 169.30H564.30"/>
<path d="M560.00 128.30H564.30"/>
<path d="M560.00 87.30H564.30"/>
<path d="M560.00 46.30H564.30"/>
<path d="M44.20 251.30V255.90"/>
<path d="M86.91 251.30V255.90"/>
<path d="M130.09 251.30V255.90"/>
<path d="M173.75 251.30V255.90"/>
<path d="M217.41 251.30V255.90"/>
<path d="M260.12 251.30V255.90"/>
<path d="M303.30 251.30V255.90"/>
<path d="M346.96 251.30V255.90"/>
<path d="M390.62 251.30V255.90"/>
<path d="M433.80 251.30V255.90"/>
<path d="M476.98 251.30V255.90"/>
<path d="M520.64 251.30V255.90"/>
<path d="M564.30 251.30V255.90"/>
</g>
<g font-size="12" text-anchor="end">
<text x="40.2" y="9.10">25</text>
<text x="40.2" y="36.43">20</text>
<text x="40.2" y="63.77">15</text>
<text x="40.2" y="91.10">10</text>
<text x="40.2" y="118.43">5</text>
<text x="40.2" y="145.77">0</text>
<text x="40.2" y="173.10">-5</text>
<text x="40.2" y="200.43">-10</text>
<text x="40.2" y="227.77">-15</text>
<text x="40.2" y="255.10">-20</text>
</g>
<g font-size="12" text-anchor="start">
<text x="568.5" y="255.90">0</text>
<text x="568.5" y="214.90">10</text>
<text x="568.5" y="173.90">20</text>
<text x="568.5" y="132.90">30</text>
<text x="568.5" y="91.90">40</text>
<text x="568.5" y="50.90">50</text>
<text x="568.5" y="9.90">60</text>
</g>
<g font-size="11" text-anchor="middle">
<text x="44.20" y="266.9">Jan 1</text>
<text x="86.91" y="266.9">Apr 1</text>
<text x="130.09" y="266.9">Jul 1</text>
<text x="173.75" y="266.9">Oct 1</text>
<text x="217.41" y="266.9">Jan 1</text>
<text x="260.12" y="266.9">Apr 1</text>
<text x="303.30" y="266.9">Jul 1</text>
<text x="346.96" y="266.9">Oct 1</text>
<text x="390.62" y="266.9">Jan 1</text>
<text x="433.80" y="266.9">Apr 1</text>
<text x="476.98" y="266.9">Jul 1</text>
<text x="520.64" y="266.9">Oct 1</text>
</g>
<text font-size="13" text-anchor="middle" transform="translate(11.4 135) rotate(-90)">Air temperature (°C)</text>
<text font-size="13" text-anchor="middle" transform="translate(595.9 136.8) rotate(-90)">Precipitation (mm)</text>
<path d="M231 24H257.5" stroke="#333" stroke-width="1.2"/>
<circle cx="244.5" cy="24" r="1.3" fill="#fff" stroke="#333" stroke-width="0.6"/>
<text x="260.0" y="27.6" font-size="11.5">Air temperature</text>
<rect x="336.0" y="17.5" width="25.8" height="12.7" fill="#000"/>
<text x="364.6" y="27.6" font-size="11.5">Precipitation</text>
<g stroke="#222" stroke-width="1" fill="none">
<path d="M44.80 283.3H88.80"/>
<path d="M184.50 283.3H217.80"/>
<path d="M217.80 283.3H256.70"/>
<path d="M358.00 283.3H390.80"/>
<path d="M390.80 283.3H430.00"/>
<path d="M531.50 283.3H564.80"/>
</g>
<g stroke="#000" stroke-width="1.2">
<path d="M44.80 275.2V290.2"/>
<path d="M217.80 275.2V290.2"/>
<path d="M390.80 275.2V290.2"/>
<path d="M564.80 275.2V290.2"/>
</g>
<g fill="#000">
<path d="M96.80 283.3L87.80 281.1L87.80 285.5Z"/>
<path d="M176.50 283.3L185.50 281.1L185.50 285.5Z"/>
<path d="M264.70 283.3L255.70 281.1L255.70 285.5Z"/>
<path d="M350.00 283.3L359.00 281.1L359.00 285.5Z"/>
<path d="M438.00 283.3L429.00 281.1L429.00 285.5Z"/>
<path d="M523.50 283.3L532.50 281.1L532.50 285.5Z"/>
</g>
<g font-size="11.5" text-anchor="middle">
<text x="134.0" y="287.7">2014</text>
<text x="310.0" y="287.7">2015</text>
<text x="479.0" y="287.7">2016</text>
</g>
</svg></body></html>
